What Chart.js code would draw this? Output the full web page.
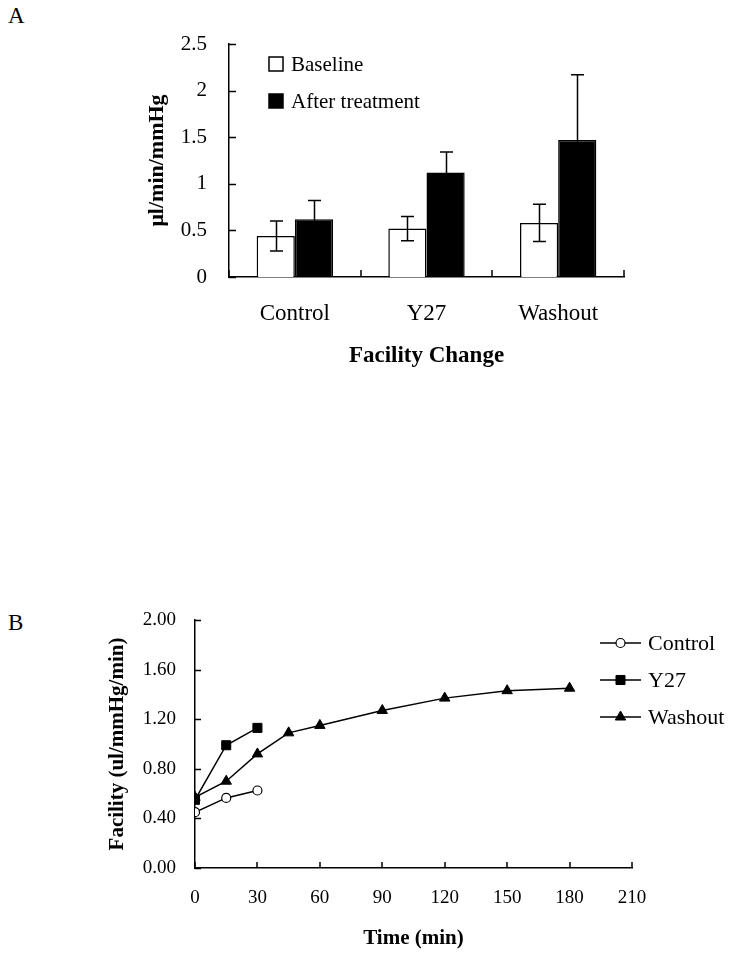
<!DOCTYPE html>
<html>
<head>
<meta charset="utf-8">
<script src="https://cdn.jsdelivr.net/npm/chart.js@4.4.1/dist/chart.umd.min.js"></script>
<style>
  html, body { margin: 0; padding: 0; background: #fff; }
  body { width: 736px; height: 957px; position: relative; overflow: hidden; font-family: 'Liberation Serif', 'Times New Roman', serif; }
  .panel { position: absolute; left: 8px; font-size: 23px; color: #000; line-height: 1; }
  canvas { position: absolute; left: 0; }
</style>
</head>
<body>
<div class="panel" style="top:4px;">A</div>
<div class="panel" style="top:611px;">B</div>
<canvas id="chartA" width="736" height="390" style="top:0px;"></canvas>
<canvas id="chartB" width="736" height="377" style="top:580px;"></canvas>
<script>
// ---------- Data: panel A ----------
const barCategories = ['Control', 'Y27', 'Washout'];
const baselineMeans = [0.44, 0.52, 0.58];
const baselineErrors = [0.16, 0.13, 0.20];
const afterMeans = [0.62, 1.12, 1.47];
const afterErrors = [0.20, 0.22, 0.70];
const barSeriesLabels = ['Baseline', 'After treatment'];
const barYTicks = [0, 0.5, 1, 1.5, 2, 2.5];

// ---------- Data: panel B ----------
const controlTimes = [0, 15, 30];
const controlValues = [0.45, 0.565, 0.625];
const y27Times = [0, 15, 30];
const y27Values = [0.55, 0.99, 1.13];
const washoutTimes = [0, 15, 30, 45, 60, 90, 120, 150, 180];
const washoutValues = [0.57, 0.70, 0.92, 1.09, 1.15, 1.27, 1.37, 1.43, 1.45];
const lineSeriesLabels = ['Control', 'Y27', 'Washout'];
const timeTicks = [0, 30, 60, 90, 120, 150, 180, 210];
const facilityTicks = [0, 0.4, 0.8, 1.2, 1.6, 2.0];

const SERIF = "'Liberation Serif', 'Times New Roman', serif";
Chart.defaults.font.family = SERIF;
Chart.defaults.color = '#000';

function pairs(xs, ys) { return xs.map((x, i) => ({ x: x, y: ys[i] })); }

// Inward tick marks
const inwardTicks = {
  id: 'inwardTicks',
  afterDraw(chart, args, opts) {
    const ctx = chart.ctx, a = chart.chartArea;
    const xs = chart.scales.x, ys = chart.scales.y;
    ctx.save();
    ctx.strokeStyle = '#000';
    ctx.lineWidth = 1.5;
    ctx.beginPath();
    ys.ticks.forEach((t, i) => {
      const py = Math.round(ys.getPixelForTick(i)) + 0.5;
      ctx.moveTo(a.left, py); ctx.lineTo(a.left + opts.yLen, py);
    });
    if (xs.type === 'category') {
      const n = xs.getLabels().length;
      for (let i = 0; i <= n; i++) {
        const px = Math.round(xs.getPixelForValue(i - 0.5));
        ctx.moveTo(px, a.bottom); ctx.lineTo(px, a.bottom - opts.xLen);
      }
    } else {
      xs.ticks.forEach((t, i) => {
        const px = Math.round(xs.getPixelForTick(i));
        ctx.moveTo(px, a.bottom); ctx.lineTo(px, a.bottom - opts.xLen);
      });
    }
    ctx.stroke();
    ctx.restore();
  }
};

// Error bars for bar chart
const errorBars = {
  id: 'errorBars',
  afterDatasetsDraw(chart) {
    const ctx = chart.ctx, ys = chart.scales.y;
    ctx.save();
    ctx.strokeStyle = '#000';
    ctx.lineWidth = 1.5;
    chart.data.datasets.forEach((ds, di) => {
      if (!ds.errors) return;
      const meta = chart.getDatasetMeta(di);
      meta.data.forEach((bar, i) => {
        const v = ds.data[i], e = ds.errors[i];
        const x = Math.round(bar.x) + 0.5;
        const yt = ys.getPixelForValue(v + e), yb = ys.getPixelForValue(v - e);
        const cap = 6.5;
        ctx.beginPath();
        ctx.moveTo(x, yt); ctx.lineTo(x, yb);
        ctx.moveTo(x - cap, yt); ctx.lineTo(x + cap, yt);
        ctx.moveTo(x - cap, yb); ctx.lineTo(x + cap, yb);
        ctx.stroke();
      });
    });
    ctx.restore();
  }
};

// Legend for bar chart (box + label)
const boxLegend = {
  id: 'boxLegend',
  afterDraw(chart, args, opts) {
    const ctx = chart.ctx;
    ctx.save();
    ctx.font = opts.fontSize + 'px ' + SERIF;
    ctx.textBaseline = 'middle';
    chart.data.datasets.forEach((ds, i) => {
      const cy = opts.y + i * opts.gap;
      const s = opts.box;
      ctx.fillStyle = ds.backgroundColor;
      ctx.fillRect(opts.x, cy - s / 2, s, s);
      ctx.strokeStyle = '#000';
      ctx.lineWidth = 1.5;
      ctx.strokeRect(opts.x, cy - s / 2, s, s);
      ctx.fillStyle = '#000';
      ctx.fillText(ds.label, opts.x + s + 8, cy + 1);
    });
    ctx.restore();
  }
};

// Legend for line chart (line + marker + label)
const lineLegend = {
  id: 'lineLegend',
  afterDraw(chart, args, opts) {
    const ctx = chart.ctx;
    ctx.save();
    ctx.font = opts.fontSize + 'px ' + SERIF;
    ctx.textBaseline = 'middle';
    chart.data.datasets.forEach((ds, i) => {
      const cy = opts.y + i * opts.gap;
      ctx.strokeStyle = '#000';
      ctx.lineWidth = 1.5;
      ctx.beginPath();
      ctx.moveTo(opts.x, cy); ctx.lineTo(opts.x + opts.len, cy);
      ctx.stroke();
      ctx.fillStyle = ds.pointBackgroundColor;
      ctx.strokeStyle = '#000';
      ctx.lineWidth = ds.pointBorderWidth;
      Chart.helpers.drawPoint(ctx, {
        pointStyle: ds.pointStyle, rotation: 0,
        radius: ds.pointRadius, borderWidth: ds.pointBorderWidth
      }, opts.x + opts.len / 2, cy);
      ctx.fillStyle = '#000';
      ctx.fillText(ds.label, opts.x + opts.len + 7, cy + 1);
    });
    ctx.restore();
  }
};

// ---------- Chart A ----------
new Chart(document.getElementById('chartA'), {
  type: 'bar',
  data: {
    labels: barCategories,
    datasets: [
      { label: barSeriesLabels[0], data: baselineMeans, errors: baselineErrors,
        backgroundColor: '#ffffff', borderColor: '#000', borderWidth: 1.5, borderSkipped: 'bottom' },
      { label: barSeriesLabels[1], data: afterMeans, errors: afterErrors,
        backgroundColor: '#000000', borderColor: '#000', borderWidth: 1.5, borderSkipped: 'bottom' }
    ]
  },
  options: {
    responsive: false,
    animation: false,
    layout: { padding: { left: 140, right: 112, top: 44, bottom: 0 } },
    datasets: { bar: { categoryPercentage: 0.58, barPercentage: 1.0 } },
    plugins: {
      legend: { display: false },
      tooltip: { enabled: false },
      inwardTicks: { xLen: 7, yLen: 7 },
      boxLegend: { x: 269, y: 64, gap: 37, box: 14, fontSize: 21 }
    },
    scales: {
      x: {
        grid: { display: false },
        border: { display: true, color: '#000', width: 1.5 },
        ticks: { font: { size: 23 }, padding: 15, color: '#000' },
        title: { display: true, text: 'Facility Change', font: { size: 23, weight: 'bold' }, padding: { top: 0, bottom: 20 }, color: '#000' },
        afterFit(s) { s.height = 113; }
      },
      y: {
        min: 0, max: 2.5,
        afterBuildTicks(s) { s.ticks = barYTicks.map(v => ({ value: v })); },
        grid: { display: false },
        border: { display: true, color: '#000', width: 1.5 },
        ticks: { font: { size: 21 }, padding: 14, color: '#000', callback: v => String(v) },
        title: { display: true, text: 'μl/min/mmHg', font: { size: 22, weight: 'bold' }, padding: { top: 4, bottom: 0 }, color: '#000' },
        afterFit(s) { s.width = 89; }
      }
    }
  },
  plugins: [inwardTicks, errorBars, boxLegend]
});

// ---------- Chart B ----------
new Chart(document.getElementById('chartB'), {
  type: 'line',
  data: {
    datasets: [
      { label: lineSeriesLabels[0], data: pairs(controlTimes, controlValues),
        borderColor: '#000', borderWidth: 1.5, pointStyle: 'circle', pointRadius: 4.5,
        pointBackgroundColor: '#ffffff', pointBorderColor: '#000', pointBorderWidth: 1.2, tension: 0 },
      { label: lineSeriesLabels[1], data: pairs(y27Times, y27Values),
        borderColor: '#000', borderWidth: 1.5, pointStyle: 'rect', pointRadius: 6.4,
        pointBackgroundColor: '#000000', pointBorderColor: '#000', pointBorderWidth: 1, tension: 0 },
      { label: lineSeriesLabels[2], data: pairs(washoutTimes, washoutValues),
        borderColor: '#000', borderWidth: 1.5, pointStyle: 'triangle', pointRadius: 6,
        pointBackgroundColor: '#000000', pointBorderColor: '#000', pointBorderWidth: 1, tension: 0 }
    ]
  },
  options: {
    responsive: false,
    animation: false,
    layout: { padding: { left: 100, right: 104, top: 40, bottom: 0 } },
    plugins: {
      legend: { display: false },
      tooltip: { enabled: false },
      inwardTicks: { xLen: 6, yLen: 6 },
      lineLegend: { x: 600, y: 63, gap: 37, len: 41, fontSize: 22 }
    },
    scales: {
      x: {
        type: 'linear', min: 0, max: 210,
        afterBuildTicks(s) { s.ticks = timeTicks.map(v => ({ value: v })); },
        grid: { display: false },
        border: { display: true, color: '#000', width: 1.5 },
        ticks: { font: { size: 19 }, padding: 11, color: '#000', callback: v => String(v) },
        title: { display: true, text: 'Time (min)', font: { size: 21, weight: 'bold' }, padding: { top: 0, bottom: 6 }, color: '#000' },
        afterFit(s) { s.height = 89; }
      },
      y: {
        min: 0, max: 2,
        afterBuildTicks(s) { s.ticks = facilityTicks.map(v => ({ value: v })); },
        grid: { display: false },
        border: { display: true, color: '#000', width: 1.5 },
        ticks: { font: { size: 19 }, padding: 11, color: '#000', callback: v => Number(v).toFixed(2) },
        title: { display: true, text: 'Facility (ul/mmHg/min)', font: { size: 21, weight: 'bold' }, padding: { top: 5, bottom: 0 }, color: '#000' },
        afterFit(s) { s.width = 95; }
      }
    }
  },
  plugins: [inwardTicks, lineLegend]
});
</script>
</body>
</html>
